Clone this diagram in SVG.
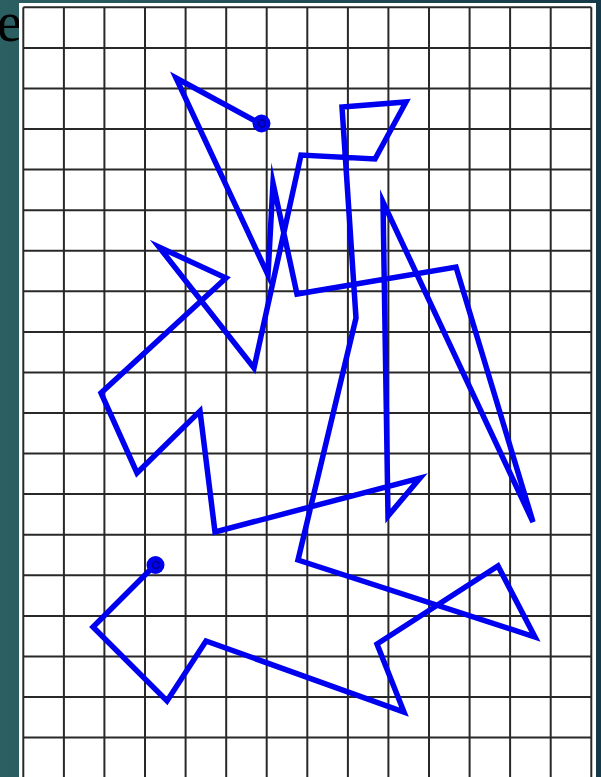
<svg xmlns="http://www.w3.org/2000/svg" width="601" height="777" viewBox="0 0 601 777">
<defs>
<linearGradient id="bg" x1="0" y1="0" x2="1" y2="0">
<stop offset="0" stop-color="#2b5f61"/>
<stop offset="1" stop-color="#163947"/>
</linearGradient>
<style>
.grid line{stroke:#282828;stroke-width:2}
.path{fill:none;stroke:#0000f0;stroke-width:5.5;stroke-linejoin:miter;stroke-miterlimit:10}
.dot{fill:#0000f0}
.dotc{fill:none;stroke:#00008a;stroke-width:1.5}
.ttl{font-family:"Liberation Serif","Times New Roman",serif;font-size:56px;fill:#000}
</style>
</defs>
<rect width="601" height="777" fill="url(#bg)"/>
<text class="ttl" x="-3" y="41">e</text>
<rect x="19" y="3" width="577" height="774" fill="#fff"/>
<g id="grid" class="grid">
<line x1="23.3" y1="7.3" x2="23.3" y2="777"/>
<line x1="63.9" y1="7.3" x2="63.9" y2="777"/>
<line x1="104.4" y1="7.3" x2="104.4" y2="777"/>
<line x1="145" y1="7.3" x2="145" y2="777"/>
<line x1="185.6" y1="7.3" x2="185.6" y2="777"/>
<line x1="226.2" y1="7.3" x2="226.2" y2="777"/>
<line x1="266.7" y1="7.3" x2="266.7" y2="777"/>
<line x1="307.3" y1="7.3" x2="307.3" y2="777"/>
<line x1="347.9" y1="7.3" x2="347.9" y2="777"/>
<line x1="388.4" y1="7.3" x2="388.4" y2="777"/>
<line x1="429" y1="7.3" x2="429" y2="777"/>
<line x1="469.6" y1="7.3" x2="469.6" y2="777"/>
<line x1="510.1" y1="7.3" x2="510.1" y2="777"/>
<line x1="550.7" y1="7.3" x2="550.7" y2="777"/>
<line x1="591.3" y1="7.3" x2="591.3" y2="777"/>
<line x1="23.3" y1="7.3" x2="591.3" y2="7.3"/>
<line x1="23.3" y1="47.9" x2="591.3" y2="47.9"/>
<line x1="23.3" y1="88.4" x2="591.3" y2="88.4"/>
<line x1="23.3" y1="129" x2="591.3" y2="129"/>
<line x1="23.3" y1="169.6" x2="591.3" y2="169.6"/>
<line x1="23.3" y1="210.2" x2="591.3" y2="210.2"/>
<line x1="23.3" y1="250.7" x2="591.3" y2="250.7"/>
<line x1="23.3" y1="291.3" x2="591.3" y2="291.3"/>
<line x1="23.3" y1="331.9" x2="591.3" y2="331.9"/>
<line x1="23.3" y1="372.4" x2="591.3" y2="372.4"/>
<line x1="23.3" y1="413" x2="591.3" y2="413"/>
<line x1="23.3" y1="453.6" x2="591.3" y2="453.6"/>
<line x1="23.3" y1="494.1" x2="591.3" y2="494.1"/>
<line x1="23.3" y1="534.7" x2="591.3" y2="534.7"/>
<line x1="23.3" y1="575.3" x2="591.3" y2="575.3"/>
<line x1="23.3" y1="615.9" x2="591.3" y2="615.9"/>
<line x1="23.3" y1="656.4" x2="591.3" y2="656.4"/>
<line x1="23.3" y1="697" x2="591.3" y2="697"/>
<line x1="23.3" y1="737.6" x2="591.3" y2="737.6"/>
</g>
<g id="connectors">
<polyline class="path" points="261,124 176,78 268,275 273,183 297,294 456,267 533,522 383,202 388,516 420,478 215,532 200,411 137,473 101,393 226,278 159,247 254,368 301,155 375,159 406,102 342,107 356,318 298,560 535,637 498,566 377,644 404,712 206,641 167,701 93,627 155,565"/>
</g>
<g id="start">
<circle class="dot" cx="261.5" cy="123.5" r="9"/>
<circle class="dotc" cx="262" cy="123.5" r="3.5"/>
</g>
<g id="end">
<circle class="dot" cx="155.5" cy="565" r="9"/>
<circle class="dotc" cx="156" cy="565" r="3.5"/>
</g>
</svg>
